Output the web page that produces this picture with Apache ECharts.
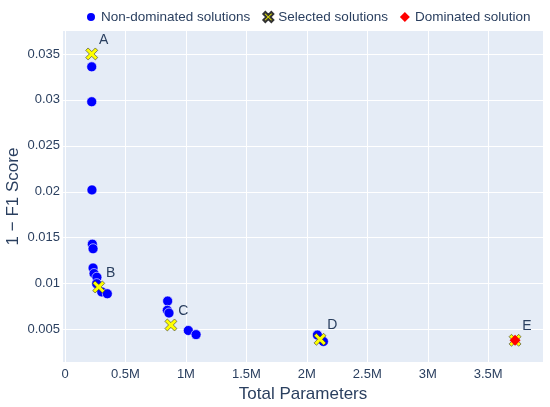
<!DOCTYPE html>
<html>
<head>
<meta charset="utf-8">
<script src="https://cdn.jsdelivr.net/npm/echarts@6/dist/echarts.min.js"></script>
<style>
html, body { margin: 0; padding: 0; background: #fff; }
#chart { width: 550px; height: 407px; }
</style>
</head>
<body>
<div id="chart"></div>
<script>
// non-dominated solutions
var nonDomParams = [221000, 221000, 223000, 226000, 232000, 232000, 240000, 264000, 262000, 304000, 350000, 849000, 846000, 860000, 1020000, 1084000, 2087000, 2137000];
var nonDomError = [0.0336, 0.0298, 0.0202, 0.0143, 0.0138, 0.0117, 0.0111, 0.0107, 0.0100, 0.0091, 0.0089, 0.0081, 0.0071, 0.0068, 0.0049, 0.00445, 0.0044, 0.0037];

// selected solutions
var selNames = ['A', 'B', 'C', 'D', 'E'];
var selParams = [221000, 279000, 876000, 2109000, 3722000];
var selError = [0.0350, 0.00964, 0.00550, 0.00394, 0.00383];

// dominated solution
var domParams = [3722000];
var domError = [0.00383];

var xTicks = ['0', '0.5M', '1M', '1.5M', '2M', '2.5M', '3M', '3.5M'];

var textColor = '#2a3f5f';
var fontFamily = '"Liberation Sans", Arial, sans-serif';
var xPath = 'path://M0,2 L2,0 L5,3 L8,0 L10,2 L7,5 L10,8 L8,10 L5,7 L2,10 L0,8 L3,5 Z';

function zip(xs, ys) {
    var out = [];
    for (var i = 0; i < xs.length; i++) out.push([xs[i], ys[i]]);
    return out;
}

var selData = [];
for (var i = 0; i < selParams.length; i++) {
    selData.push({ name: selNames[i], value: [selParams[i], selError[i]] });
}

var chart = echarts.init(document.getElementById('chart'));

var option = {
    animation: false,
    textStyle: { fontFamily: fontFamily },
    legend: {
        left: 80,
        top: 5,
        itemWidth: 10,
        itemHeight: 10,
        itemGap: 12,
        itemTextGap: 8,
        textStyle: { color: textColor, fontSize: 13.5, fontFamily: fontFamily },
        data: ['Non-dominated solutions', 'Selected solutions', 'Dominated solution']
    },
    grid: {
        left: 63,
        right: 7,
        top: 31,
        bottom: 45,
        outerBoundsMode: 'none',
        containLabel: false,
        show: true,
        backgroundColor: '#E5ECF6',
        borderWidth: 0
    },
    xAxis: {
        type: 'value',
        min: -16500,
        max: 3953000,
        minInterval: 500000,
        maxInterval: 500000,
        name: 'Total Parameters',
        nameLocation: 'middle',
        nameGap: 24,
        nameMoveOverlap: false,
        nameTextStyle: { color: textColor, fontSize: 17, fontFamily: fontFamily },
        axisLine: { show: false },
        axisTick: { show: false },
        splitLine: { show: true, showMinLine: false, showMaxLine: false, lineStyle: { color: '#ffffff', width: 1 } },
        axisLabel: {
            showMinLabel: false,
            showMaxLabel: false,
            color: textColor,
            fontSize: 13,
            margin: 6,
            formatter: function (v) {
                var idx = Math.round(v / 500000);
                return xTicks[idx] !== undefined ? xTicks[idx] : '';
            }
        }
    },
    yAxis: {
        type: 'value',
        min: 0.00147,
        max: 0.0375,
        minInterval: 0.005,
        maxInterval: 0.005,
        name: '1 − F1 Score',
        nameLocation: 'middle',
        nameGap: 41,
        nameMoveOverlap: false,
        nameTextStyle: { color: textColor, fontSize: 17, fontFamily: fontFamily },
        axisLine: { show: false },
        axisTick: { show: false },
        splitLine: { show: true, showMinLine: false, showMaxLine: false, lineStyle: { color: '#ffffff', width: 1 } },
        axisLabel: {
            showMinLabel: false,
            showMaxLabel: false,
            color: textColor,
            fontSize: 13,
            margin: 3,
            formatter: function (v) {
                return String(parseFloat(v.toFixed(4)));
            }
        }
    },
    series: [
        {
            name: 'Non-dominated solutions',
            type: 'scatter',
            symbol: 'circle',
            symbolSize: 10,
            itemStyle: { color: '#0000ff', borderColor: '#ffffff', borderWidth: 0.6, opacity: 1 },
            data: zip(nonDomParams, nonDomError),
            z: 2
        },
        {
            name: 'Selected solutions',
            type: 'scatter',
            symbol: xPath,
            symbolSize: 12,
            itemStyle: { color: '#ffff00', borderColor: '#333333', borderWidth: 0.6, opacity: 1 },
            label: {
                show: true,
                position: 'right',
                distance: 1,
                offset: [0, -14],
                color: textColor,
                fontSize: 14,
                formatter: '{b}'
            },
            data: selData,
            z: 3
        },
        {
            name: 'Dominated solution',
            type: 'scatter',
            symbol: 'diamond',
            symbolSize: 11,
            itemStyle: { color: '#ff0000', borderColor: '#ff0000', borderWidth: 0, opacity: 1 },
            data: zip(domParams, domError),
            z: 4
        }
    ]
};

chart.setOption(option);
</script>
</body>
</html>
